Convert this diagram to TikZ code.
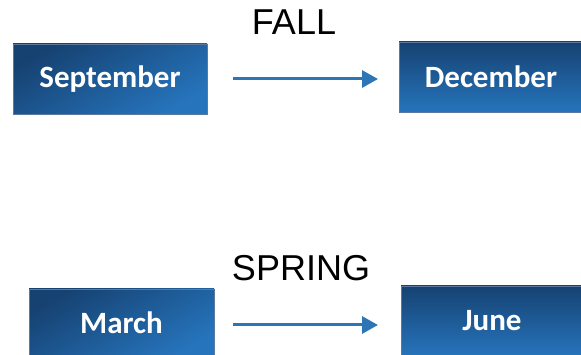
\documentclass[tikz,border=0pt]{standalone}
\usepackage{fontspec}
\setmainfont{Liberation Sans}
\newfontfamily\boxfont{Carlito}
\usetikzlibrary{arrows.meta}
\definecolor{boxdark}{RGB}{22,66,114}
\definecolor{boxlight}{RGB}{38,116,188}
\definecolor{arrowblue}{RGB}{46,117,182}
\definecolor{boxedge}{RGB}{90,120,160}
\tikzset{
  monthbox/.style={draw=boxedge, line width=0.6pt, minimum width=#1, inner sep=0pt,
    text=white, font=\boxfont\bfseries\fontsize{31}{35}\selectfont},
  diagshade/.style={shading=axis, top color=boxdark, bottom color=boxlight, shading angle=30},
  vertshade/.style={top color=boxdark, bottom color=boxlight},
  season/.style={font=\fontsize{36}{40}\selectfont, inner sep=0pt},
  flow/.style={draw=arrowblue, line width=3pt, -{Triangle[length=16pt,width=17pt]}}
}
\begin{document}
\begin{tikzpicture}[x=1pt,y=-1pt]
\useasboundingbox (0,0) rectangle (581,355);
\node[monthbox=194pt, minimum height=70pt, diagshade] (sep) at (110,79) {September};
\node[monthbox=184pt, minimum height=70pt, vertshade] (dec) at (491,77) {December};
\node[monthbox=185pt, minimum height=68pt, diagshade] (mar) at (121.5,323) {March};
\node[monthbox=182pt, minimum height=70pt, vertshade] (jun) at (492,321) {June};
\node[season] (fall) at (294,22) {FALL};
\node[season] (spring) at (301,268) {SPRING};
\coordinate (fa) at (233,79);
\coordinate (fb) at (378,79);
\coordinate (sa) at (233,325);
\coordinate (sb) at (378,325);
\draw[flow] (fa) -- (fb);
\draw[flow] (sa) -- (sb);
\end{tikzpicture}
\end{document}
